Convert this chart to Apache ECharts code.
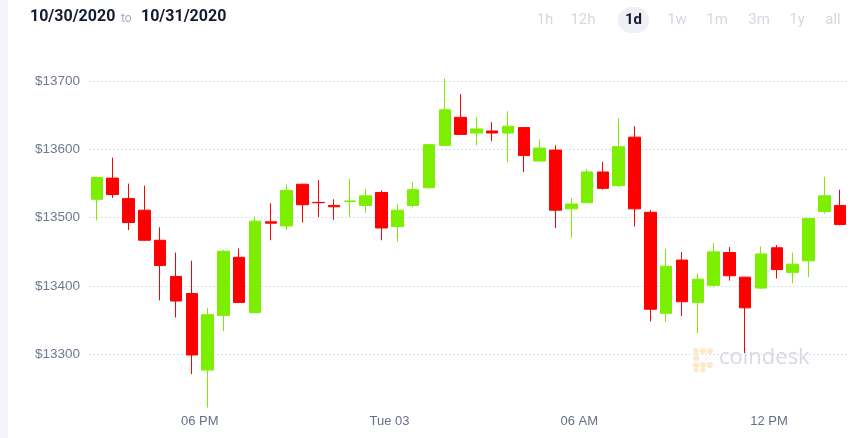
<!DOCTYPE html>
<html>
<head>
<meta charset="utf-8">
<script src="https://cdn.jsdelivr.net/npm/echarts@6/dist/echarts.min.js"></script>
<style>
html,body{margin:0;padding:0;background:#fff;}
#chart{width:864px;height:438px;}
</style>
</head>
<body>
<div id="chart"></div>
<script>
// 30-minute candles (start times)
const categories = ["14:30","15:00","15:30","16:00","16:30","17:00","17:30","18:00","18:30","19:00",
  "19:30","20:00","20:30","21:00","21:30","22:00","22:30","23:00","23:30","00:00",
  "00:30","01:00","01:30","02:00","02:30","03:00","03:30","04:00","04:30","05:00",
  "05:30","06:00","06:30","07:00","07:30","08:00","08:30","09:00","09:30","10:00",
  "10:30","11:00","11:30","12:00","12:30","13:00","13:30","14:00"];
const openVals  = [13527,13558,13528,13511,13467,13414,13389,13277,13357,13442,
  13361,13494,13488,13549,13522.5,13518,13524,13518,13537,13487,
  13518,13544,13606,13647,13624,13627,13624,13632,13583,13599,
  13513,13522,13567,13547,13618,13508,13360,13438,13376,13401,
  13449,13413,13397,13456,13420,13437,13509,13518];
const closeVals = [13559,13534,13493,13467,13430,13378,13299,13358,13451,13376,
  13495,13492,13540,13519,13522,13516,13524.5,13532,13485,13511,
  13541,13607,13658,13622,13630,13624,13634,13591,13602,13511,
  13520,13567,13543,13604,13513,13366,13429,13377,13410,13450,
  13415,13368,13447,13424,13432,13499,13532,13490];
const lowVals   = [13496,13529,13482,13466,13379,13354,13271,13222,13334,13375,
  13361,13467,13482,13493,13501,13497,13501,13507,13467,13465,
  13515,13542,13606,13622,13606,13612,13581,13567,13583,13485,
  13471,13522,13541,13545,13487,13348,13347,13356,13331,13398,
  13408,13302,13396,13411,13404,13413,13506,13489];
const highVals  = [13560,13588,13550,13547,13486,13449,13437,13368,13453,13455,
  13502,13521,13549,13550,13555,13527,13557,13542,13540,13520,
  13552,13607,13704,13681,13647,13640,13656,13632,13615,13606,
  13529,13571,13582,13646,13634,13511,13454,13450,13418,13463,
  13457,13413,13458,13460,13449,13499,13560,13541];
const xTickPositions = [6.5, 18.5, 30.5, 42.5];
const xTickLabels = ["06 PM", "Tue 03", "06 AM", "12 PM"];
const yTicks = [13300, 13400, 13500, 13600, 13700];

const candleData = categories.map((c, i) => [openVals[i], closeVals[i], lowVals[i], highVals[i]]);

const GREEN = '#7cef00';
const RED = '#ff0000';

const chart = echarts.init(document.getElementById('chart'), null, {renderer: 'canvas'});
const option = {
  animation: false,
  backgroundColor: '#ffffff',
  grid: {left: 89, right: 16, top: 47, bottom: 15.4, containLabel: false},
  xAxis: [
    {
      type: 'category', data: categories, boundaryGap: true,
      axisLine: {show: false}, axisTick: {show: false}, axisLabel: {show: false},
      splitLine: {show: false}
    },
    {
      type: 'value', min: -0.5, max: categories.length - 0.5,
      position: 'bottom', offset: -16,
      axisLine: {show: false}, axisTick: {show: false}, splitLine: {show: false},
      axisLabel: {
        show: true, customValues: xTickPositions, margin: 8,
        color: '#667085', fontSize: 13, fontFamily: 'Liberation Sans, Arial, sans-serif',
        formatter: function (v) {
          const k = xTickPositions.indexOf(v);
          return k >= 0 ? xTickLabels[k] : '';
        }
      }
    }
  ],
  yAxis: {
    type: 'value', min: 13200, max: 13750, interval: 100, scale: true,
    axisLine: {show: false}, axisTick: {show: false},
    axisLabel: {
      showMinLabel: false, showMaxLabel: false, margin: 9,
      color: '#6e7a8f', fontSize: 13.5, fontFamily: 'Liberation Sans, Arial, sans-serif',
      formatter: function (v) { return yTicks.indexOf(v) >= 0 ? '$' + v : ''; }
    },
    splitLine: {show: true, showMinLine: false, showMaxLine: false,
      lineStyle: {color: '#dfe1ea', type: [2, 2], width: 1}}
  },
  series: [{
    type: 'candlestick', xAxisIndex: 0, yAxisIndex: 0,
    data: candleData, barWidth: 12,
    itemStyle: {color: GREEN, color0: RED, borderColor: GREEN, borderColor0: RED, borderWidth: 1}
  }],
  graphic: [
    {type: 'rect', left: 0, top: 0, shape: {width: 8, height: 438}, style: {fill: '#f3f5f9'}, silent: true},
    {type: 'text', left: 30, top: 9, style: {text: '10/30/2020', font: 'bold 16px Roboto, sans-serif', fill: '#141a33'}},
    {type: 'text', left: 121, top: 13, style: {text: 'to', font: '12px Roboto, sans-serif', fill: '#a7acb9'}},
    {type: 'text', left: 141, top: 9, style: {text: '10/31/2020', font: 'bold 16px Roboto, sans-serif', fill: '#141a33'}},
    {type: 'rect', left: 618, top: 7, shape: {width: 31, height: 26, r: 13}, style: {fill: '#eef0f5'}},
    {type: 'text', x: 545, y: 20, style: {text: '1h', font: '15px Roboto, sans-serif', fill: '#d5d8e2', align: 'center', verticalAlign: 'middle'}},
    {type: 'text', x: 583, y: 20, style: {text: '12h', font: '15px Roboto, sans-serif', fill: '#d5d8e2', align: 'center', verticalAlign: 'middle'}},
    {type: 'text', x: 633.5, y: 20, style: {text: '1d', font: 'bold 15px Roboto, sans-serif', fill: '#141a33', align: 'center', verticalAlign: 'middle'}},
    {type: 'text', x: 677, y: 20, style: {text: '1w', font: '15px Roboto, sans-serif', fill: '#d5d8e2', align: 'center', verticalAlign: 'middle'}},
    {type: 'text', x: 717, y: 20, style: {text: '1m', font: '15px Roboto, sans-serif', fill: '#d5d8e2', align: 'center', verticalAlign: 'middle'}},
    {type: 'text', x: 759, y: 20, style: {text: '3m', font: '15px Roboto, sans-serif', fill: '#d5d8e2', align: 'center', verticalAlign: 'middle'}},
    {type: 'text', x: 797, y: 20, style: {text: '1y', font: '15px Roboto, sans-serif', fill: '#d5d8e2', align: 'center', verticalAlign: 'middle'}},
    {type: 'text', x: 833, y: 20, style: {text: 'all', font: '15px Roboto, sans-serif', fill: '#d5d8e2', align: 'center', verticalAlign: 'middle'}},
    // watermark
    {type: 'group', left: 693, top: 348, silent: true, children: [
      {type: 'circle', shape: {cx: 3, cy: 3, r: 3}, style: {fill: '#fde9c8'}},
      {type: 'circle', shape: {cx: 10, cy: 3, r: 3}, style: {fill: '#fde9c8'}},
      {type: 'circle', shape: {cx: 17, cy: 3, r: 3}, style: {fill: '#fde9c8'}},
      {type: 'circle', shape: {cx: 3, cy: 10, r: 3}, style: {fill: '#fde9c8'}},
      {type: 'circle', shape: {cx: 3, cy: 17, r: 3}, style: {fill: '#fde9c8'}},
      {type: 'circle', shape: {cx: 10, cy: 17, r: 3}, style: {fill: '#fde9c8'}},
      {type: 'circle', shape: {cx: 17, cy: 17, r: 3}, style: {fill: '#fde9c8'}},
      {type: 'circle', shape: {cx: 3, cy: 22, r: 2.5}, style: {fill: '#fde9c8'}},
      {type: 'circle', shape: {cx: 10, cy: 22, r: 2.5}, style: {fill: '#fde9c8'}},
      {type: 'rect', shape: {x: 13, y: 9, width: 2, height: 2}, style: {fill: '#fde9c8'}}
    ]},
    {type: 'text', left: 719, top: 347, silent: true, style: {text: 'coindesk', font: '22px "Open Sans", sans-serif', fill: '#d6d9e0'}}
  ]
};
chart.setOption(option);
</script>
</body>
</html>
